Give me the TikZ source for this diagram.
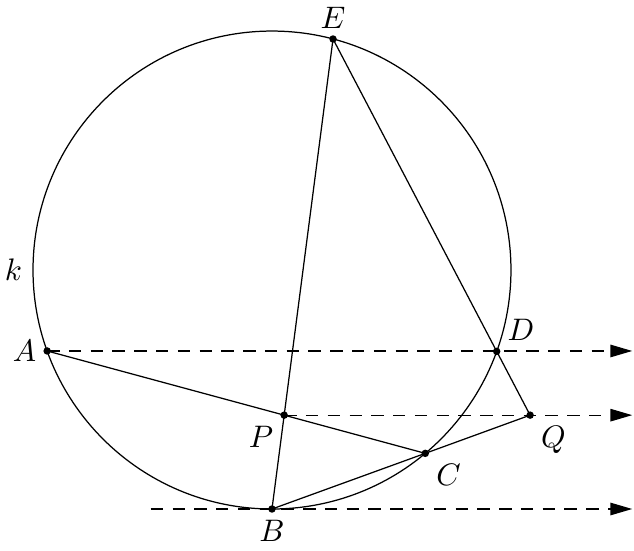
\documentclass[tikz,border=0pt]{standalone}
\usetikzlibrary{calc, arrows.meta}

\tikzset{
	dot/.style = {fill, radius = 1.2pt},
	ray/.style = {dash pattern = on 4pt off 3pt, -{Triangle[length = 7pt, width = 4pt]}}
}

\begin{document}
\begin{tikzpicture}
			\def\r{2.7};
			\def\xe{4.07};
			\def\xs{-1.37};

			\useasboundingbox (-3.073,-3.164) rectangle (4.090,3.051);

			\draw (0,0) circle [radius = \r];
			\node [left] (k) at (180:\r) {$k$};

			% points on the circle
			\coordinate [label = left:$A$] (A) at (199.8:\r);
			\coordinate [label = above:$E$] (E) at (75.2:\r);
			\coordinate [label = above right:$D$] (D) at (-19.9:\r);
			\coordinate [label = below right:$C$] (C) at (-50.1:\r);
			\coordinate [label = below:$B$] (B) at (270:\r);

			\coordinate [label = below left:$P$] (P) at (intersection of A--C and E--B);
			\coordinate (Ph) at ($(P)+(1,0)$);
			\coordinate [label = below right:$Q$] (Q) at (intersection of E--D and P--Ph);

			% ends of the rays
			\coordinate (R1) at (\xe,0 |- A);
			\coordinate (R2) at (\xe,0 |- P);
			\coordinate (R3) at (\xe,-\r);
			\coordinate (S3) at (\xs,-\r);

			\draw
				(A) -- (C)
				(E) -- (B)
				(E) -- (Q)
				(Q) -- (C)
				(B) -- (C);

			\begin{scope}[ray]
				\draw (A) -- (R1);
				\draw (P) -- (R2);
				\draw (S3) -- (R3);
			\end{scope}

			\foreach \p in {A, B, C, D, E, P, Q}
				\fill [dot] (\p) circle;
		\end{tikzpicture}
\end{document}
